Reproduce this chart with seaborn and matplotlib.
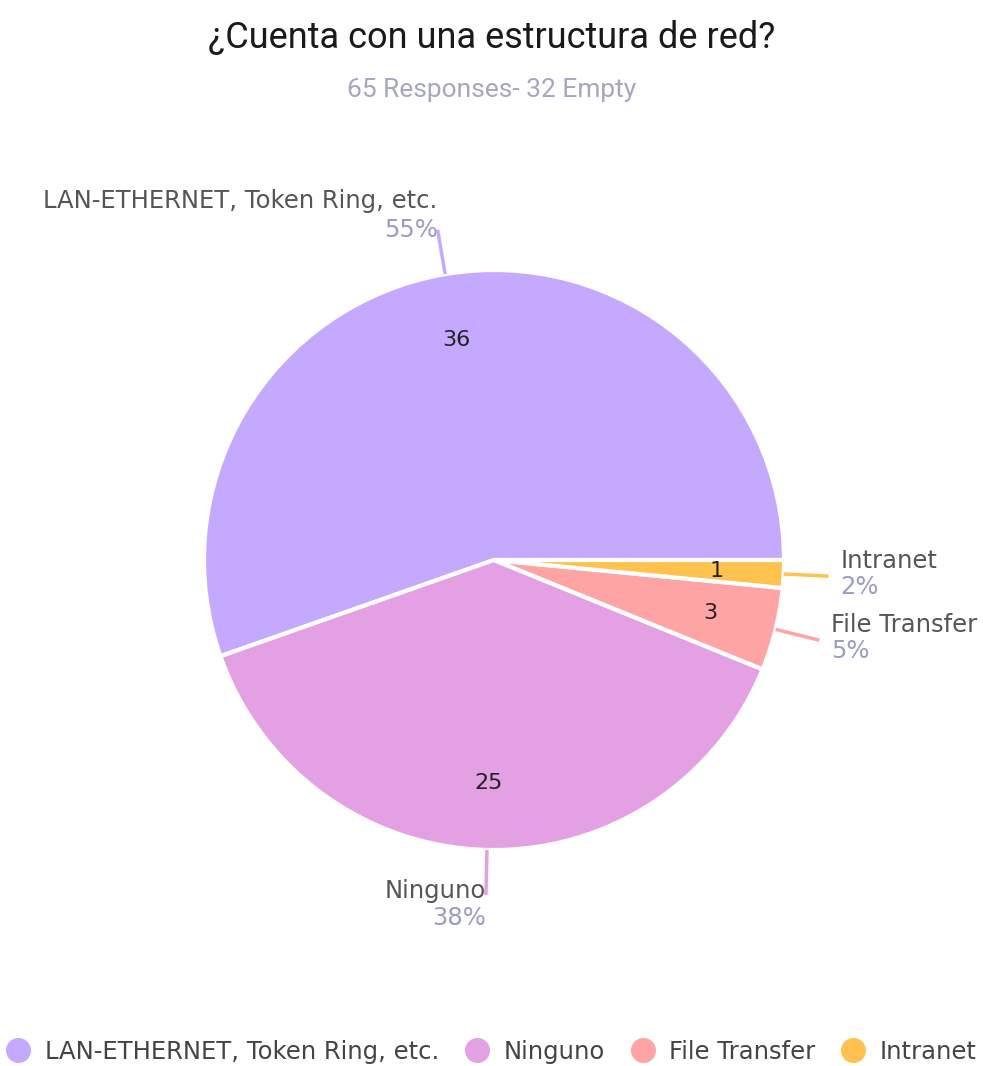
import numpy as np
import matplotlib
matplotlib.use("Agg")
import matplotlib.pyplot as plt
from matplotlib.lines import Line2D
import seaborn as sns

categories = ["LAN-ETHERNET, Token Ring, etc.", "Ninguno", "File Transfer", "Intranet"]
counts = [36, 25, 3, 1]
percent_labels = ["55%", "38%", "5%", "2%"]
colors = ["#C5A9FF", "#E3A0E3", "#FFA4A4", "#FFC24F"]
title = "¿Cuenta con una estructura de red?"
subtitle = "65 Responses- 32 Empty"

sns.set_theme(style="white")
plt.rcParams["font.family"] = ["DejaVu Sans"]

W, H = 983, 1066
fig = plt.figure(figsize=(W / 100, H / 100), dpi=100)
ax = fig.add_axes([0, 0, 1, 1])

cx, cy, R = 494, H - 560, 290
total = sum(counts)
wedges, _, autotexts = ax.pie(
    counts, colors=colors, startangle=0, counterclock=True,
    center=(cx, cy), radius=R, labels=None,
    autopct=lambda p: f"{round(p * total / 100)}", pctdistance=0.77,
    wedgeprops=dict(edgecolor="white", linewidth=3),
    textprops=dict(fontsize=16, color="#222222"))

# leader lines and outside labels
for w, name, pct, col in zip(wedges, categories, percent_labels, colors):
    ang = np.deg2rad((w.theta1 + w.theta2) / 2)
    c, s = np.cos(ang), np.sin(ang)
    x0, y0 = cx + R * c, cy + R * s
    x1, y1 = cx + (R + 45) * c, cy + (R + 45) * s
    ax.plot([x0, x1], [y0, y1], color=col, lw=2.5, solid_capstyle="butt")
    if c >= 0:
        ha, tx = "left", x1 + 12
    else:
        ha, tx = "right", x1
    if s > 0.5:
        ny, py = y1 + 29, y1
    elif s < -0.5:
        ny, py = y1 + 4, y1 - 23
    else:
        ny, py = y1 + 15, y1 - 11
    ax.text(tx, ny, name, ha=ha, va="center", fontsize=17.5, color="#555555")
    ax.text(tx, py, pct, ha=ha, va="center", fontsize=17.5, color="#9C9CC2")

ax.set_xlim(0, W)
ax.set_ylim(0, H)
ax.set_aspect("equal")
ax.axis("off")

fig.text(0.5, 1 - 38 / H, title, ha="center", va="center", fontsize=26,
         color="#1a1a1a", family=["Roboto", "DejaVu Sans"])
fig.text(0.5, 1 - 90 / H, subtitle, ha="center", va="center", fontsize=19,
         color="#A6A6C2", family=["Roboto", "DejaVu Sans"])

handles = [Line2D([], [], marker="o", ls="", markersize=17, markerfacecolor=c,
                  markeredgecolor=c) for c in colors]
fig.legend(handles, categories, loc="center", bbox_to_anchor=(0.5, 1 - 1052 / H),
           ncol=4, frameon=False, fontsize=17.5, handlelength=1, handletextpad=0.6,
           columnspacing=1.05, labelcolor="#444444")

fig.savefig("out.png", dpi=100)
plt.close(fig)
